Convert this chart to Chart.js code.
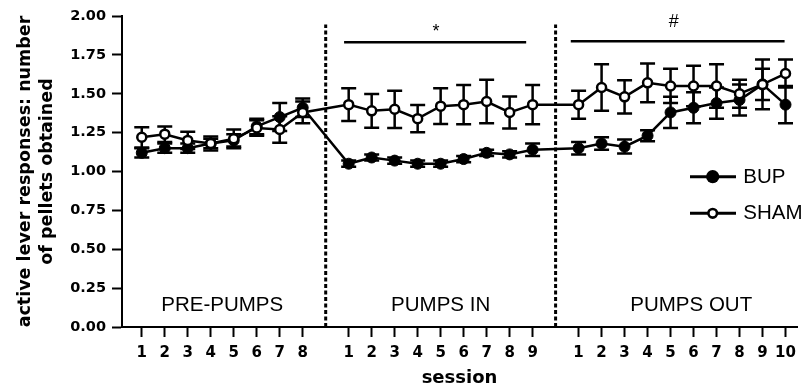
<!DOCTYPE html>
<html>
<head>
<meta charset="utf-8">
<script src="https://cdn.jsdelivr.net/npm/chart.js@4.4.1/dist/chart.umd.min.js"></script>
<style>
  html, body { margin: 0; padding: 0; background: #fff; }
  #wrap { width: 804px; height: 389px; position: relative; }
</style>
</head>
<body>
<div id="wrap"><canvas id="chart"></canvas></div>
<script>
// phases and sessions
const phaseNames = ["PRE-PUMPS", "PUMPS IN", "PUMPS OUT"];
const preSessions = [1, 2, 3, 4, 5, 6, 7, 8];
const inSessions = [1, 2, 3, 4, 5, 6, 7, 8, 9];
const outSessions = [1, 2, 3, 4, 5, 6, 7, 8, 9, 10];

// BUP group: mean and SEM
const bupPre = [1.12, 1.15, 1.15, 1.18, 1.20, 1.29, 1.35, 1.41];
const bupPreSem = [0.03, 0.03, 0.03, 0.03, 0.04, 0.05, 0.09, 0.06];
const bupIn = [1.05, 1.09, 1.07, 1.05, 1.05, 1.08, 1.12, 1.11, 1.14];
const bupInSem = [0.02, 0.02, 0.02, 0.02, 0.02, 0.02, 0.02, 0.02, 0.04];
const bupOut = [1.15, 1.18, 1.16, 1.23, 1.38, 1.41, 1.44, 1.46, 1.56, 1.43];
const bupOutSem = [0.04, 0.04, 0.045, 0.035, 0.10, 0.10, 0.10, 0.10, 0.10, 0.12];

// SHAM group: mean and SEM
const shamPre = [1.22, 1.24, 1.20, 1.18, 1.21, 1.28, 1.27, 1.38];
const shamPreSem = [0.065, 0.05, 0.055, 0.045, 0.06, 0.05, 0.085, 0.07];
const shamIn = [1.43, 1.39, 1.40, 1.34, 1.42, 1.43, 1.45, 1.38, 1.43];
const shamInSem = [0.105, 0.108, 0.12, 0.087, 0.115, 0.126, 0.14, 0.103, 0.126];
const shamOut = [1.43, 1.54, 1.48, 1.57, 1.55, 1.55, 1.55, 1.50, 1.56, 1.63];
const shamOutSem = [0.09, 0.15, 0.107, 0.125, 0.11, 0.13, 0.14, 0.09, 0.16, 0.09];

const yTickLabels = ["0.00", "0.25", "0.50", "0.75", "1.00", "1.25", "1.50", "1.75", "2.00"];

// each phase starts at this slot on the x scale (one empty slot between phases)
const phaseStart = [0, 9, 19];
const phaseSessions = [preSessions, inSessions, outSessions];

const xTicks = [];
const xTickLabels = [];
phaseSessions.forEach((list, p) => {
  list.forEach((s, i) => {
    xTicks.push(phaseStart[p] + i);
    xTickLabels.push(String(s));
  });
});

function points(parts) {
  const out = [];
  parts.forEach((vals, p) => {
    vals.forEach((v, i) => out.push({ x: phaseStart[p] + i, y: v }));
  });
  return out;
}

const bupPoints = points([bupPre, bupIn, bupOut]);
const bupSem = [...bupPreSem, ...bupInSem, ...bupOutSem];
const shamPoints = points([shamPre, shamIn, shamOut]);
const shamSem = [...shamPreSem, ...shamInSem, ...shamOutSem];

// 📏 error bars under the markers
const errorBars = {
  id: "errorBars",
  beforeDatasetsDraw(chart) {
    const { ctx, scales: { x, y } } = chart;
    ctx.save();
    ctx.strokeStyle = "#000";
    ctx.lineWidth = 2.5;
    chart.data.datasets.forEach(ds => {
      ds.data.forEach((p, i) => {
        const px = x.getPixelForValue(p.x);
        const top = y.getPixelForValue(p.y + ds.sem[i]);
        const bot = y.getPixelForValue(p.y - ds.sem[i]);
        ctx.beginPath();
        ctx.moveTo(px, top); ctx.lineTo(px, bot);
        ctx.moveTo(px - 7.5, top); ctx.lineTo(px + 7.5, top);
        ctx.moveTo(px - 7.5, bot); ctx.lineTo(px + 7.5, bot);
        ctx.stroke();
      });
    });
    ctx.restore();
  }
};

// 🧱 phase separators, phase names, significance bars
const decorations = {
  id: "decorations",
  beforeDatasetsDraw(chart) {
    const { ctx, scales: { x, y } } = chart;
    ctx.save();
    ctx.strokeStyle = "#000";
    ctx.lineWidth = 3;
    ctx.setLineDash([4, 2.5]);
    [8, 18].forEach(v => {
      const px = x.getPixelForValue(v);
      ctx.beginPath();
      ctx.moveTo(px, y.getPixelForValue(0));
      ctx.lineTo(px, y.getPixelForValue(1.945));
      ctx.stroke();
    });
    ctx.setLineDash([]);

    ctx.fillStyle = "#000";
    ctx.font = '20.5px "Liberation Sans", Arial, sans-serif';
    ctx.textAlign = "center";
    ctx.textBaseline = "middle";
    const labelX = [3.5, 13, 23.9];
    phaseNames.forEach((name, i) => {
      ctx.fillText(name, x.getPixelForValue(labelX[i]), y.getPixelForValue(0.14));
    });

    ctx.lineWidth = 2.5;
    ctx.beginPath();
    ctx.moveTo(x.getPixelForValue(8.8), y.getPixelForValue(1.831));
    ctx.lineTo(x.getPixelForValue(16.72), y.getPixelForValue(1.831));
    ctx.moveTo(x.getPixelForValue(18.66), y.getPixelForValue(1.838));
    ctx.lineTo(x.getPixelForValue(27.96), y.getPixelForValue(1.838));
    ctx.stroke();

    ctx.font = '18px "Liberation Sans", Arial, sans-serif';
    ctx.fillText("*", x.getPixelForValue(12.8), y.getPixelForValue(1.90));
    ctx.fillText("#", x.getPixelForValue(23.14), y.getPixelForValue(1.962));
    ctx.restore();
  },
  afterDraw(chart) {
    // legend: line with marker, then name
    const { ctx } = chart;
    ctx.save();
    ctx.strokeStyle = "#000";
    ctx.fillStyle = "#000";
    ctx.lineWidth = 3;
    const rows = [
      { name: "BUP", y: 176.7, open: false },
      { name: "SHAM", y: 213.3, open: true }
    ];
    rows.forEach(r => {
      ctx.beginPath();
      ctx.moveTo(690, r.y);
      ctx.lineTo(736, r.y);
      ctx.stroke();
      ctx.beginPath();
      if (r.open) {
        ctx.arc(712.7, r.y, 4.3, 0, Math.PI * 2);
        ctx.fillStyle = "#fff";
        ctx.fill();
        ctx.lineWidth = 2.6;
        ctx.stroke();
      } else {
        ctx.arc(712.7, r.y, 6.6, 0, Math.PI * 2);
        ctx.fill();
      }
      ctx.fillStyle = "#000";
      ctx.font = '20.5px "Liberation Sans", Arial, sans-serif';
      ctx.textAlign = "left";
      ctx.textBaseline = "middle";
      ctx.fillText(r.name, 743.3, r.y + 0.5);
    });
    ctx.restore();
  }
};

new Chart(document.getElementById("chart"), {
  type: "line",
  data: {
    datasets: [
      {
        label: "BUP",
        data: bupPoints,
        sem: bupSem,
        order: 1,
        borderColor: "#000",
        borderWidth: 2.5,
        pointRadius: 5.5,
        pointBorderWidth: 1,
        pointBackgroundColor: "#000",
        pointBorderColor: "#000",
        tension: 0
      },
      {
        label: "SHAM",
        data: shamPoints,
        sem: shamSem,
        order: 0,
        borderColor: "#000",
        borderWidth: 2.5,
        pointRadius: 4.5,
        pointBorderWidth: 2.5,
        pointBackgroundColor: "#fff",
        pointBorderColor: "#000",
        tension: 0
      }
    ]
  },
  options: {
    responsive: true,
    maintainAspectRatio: false,
    animation: false,
    events: [],
    layout: { padding: { top: 16, right: 1, left: 0, bottom: 0 } },
    plugins: {
      legend: { display: false },
      tooltip: { enabled: false }
    },
    scales: {
      x: {
        type: "linear",
        min: -0.86,
        max: 28.5,
        afterBuildTicks: s => { s.ticks = xTicks.map(v => ({ value: v })); },
        afterFit: s => { s.height = 62; },
        grid: { drawOnChartArea: false, tickLength: 10, tickWidth: 2, tickColor: "#000" },
        border: { display: true, color: "#000", width: 2 },
        ticks: {
          autoSkip: false,
          maxRotation: 0,
          padding: 7,
          color: "#000",
          font: { family: '"DejaVu Sans"', weight: "bold", size: 15 },
          callback: (v, i) => xTickLabels[i]
        },
        title: {
          display: true,
          text: "session",
          color: "#000",
          font: { family: '"DejaVu Sans"', weight: "bold", size: 18 },
          padding: { top: 0, bottom: 0 }
        }
      },
      y: {
        min: 0,
        max: 2,
        afterFit: s => { s.width = 122; },
        grid: { drawOnChartArea: false, tickLength: 10, tickWidth: 2, tickColor: "#000" },
        border: { display: true, color: "#000", width: 2 },
        ticks: {
          stepSize: 0.25,
          padding: 6,
          color: "#000",
          font: { family: '"DejaVu Sans"', weight: "bold", size: 14.5 },
          callback: (v, i) => yTickLabels[i]
        },
        title: {
          display: true,
          text: ["active lever responses: number", "of pellets obtained"],
          color: "#000",
          font: { family: '"DejaVu Sans"', weight: "bold", size: 17.5, lineHeight: 1.25 },
          padding: { top: 15, bottom: 0 }
        }
      }
    }
  },
  plugins: [errorBars, decorations]
});
</script>
</body>
</html>
